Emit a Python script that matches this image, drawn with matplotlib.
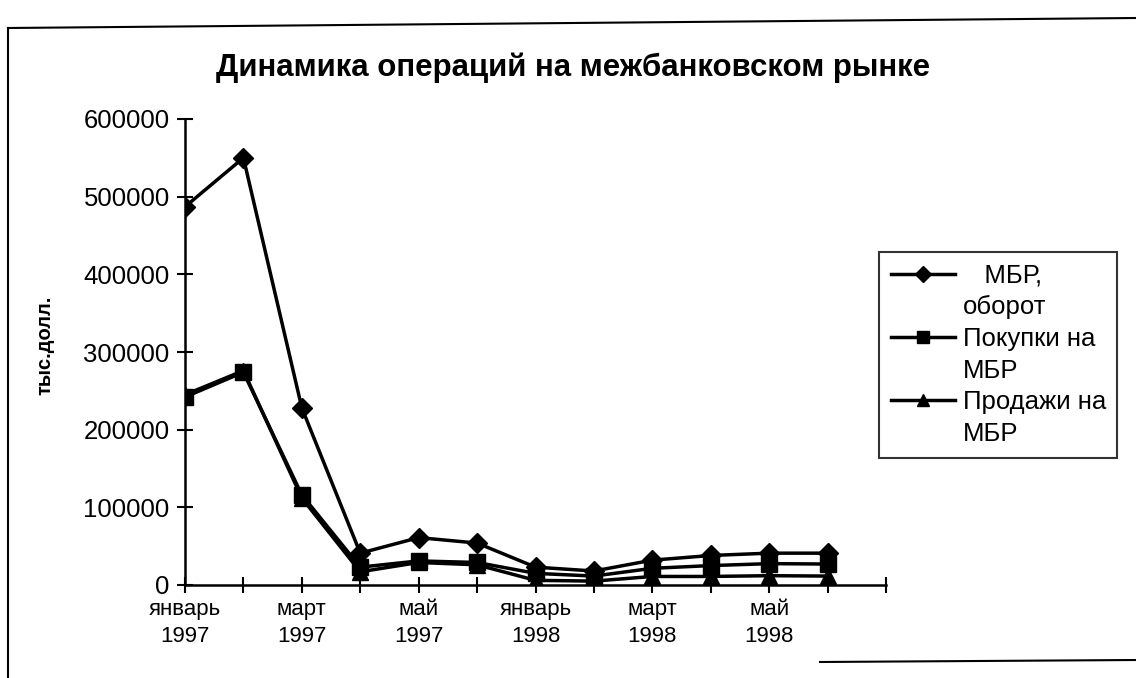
# Динамика операций на межбанковском рынке
import numpy as np
import matplotlib
matplotlib.use('Agg')
import matplotlib.pyplot as plt
from matplotlib.lines import Line2D

plt.rcParams['font.family'] = ['Liberation Sans', 'DejaVu Sans']

# data (тыс. долл.), Jan-Jun 1997 and Jan-Jun 1998
months = ['январь\n1997', '', 'март\n1997', '', 'май\n1997', '',
          'январь\n1998', '', 'март\n1998', '', 'май\n1998', '']
turnover = [487000, 550000, 228000, 41000, 61000, 54000, 23000, 18000, 32000, 38000, 41000, 41000]
purchases = [242000, 274000, 116000, 23000, 31000, 29000, 15000, 11500, 21500, 25000, 27500, 27000]
sales = [245000, 276000, 112000, 17000, 29000, 26000, 6000, 5000, 11000, 11000, 12000, 11500]

x = np.arange(len(months))

fig = plt.figure(figsize=(11.36, 6.78), dpi=100)
ax = fig.add_axes([185/1136, 1-585/678, (886-185)/1136, (585-119)/678])

l1, = ax.plot(x, turnover, color='black', lw=2.5, marker='D', ms=10)
l2, = ax.plot(x, purchases, color='black', lw=2.5, marker='s', ms=11)
l3, = ax.plot(x, sales, color='black', lw=2.5, marker='^', ms=11)

ax.set_xlim(0, 12)
ax.set_ylim(0, 600000)
ax.set_xticks(np.arange(13))
ax.set_xticklabels(months + [''], fontsize=16, linespacing=1.4)
ax.set_yticks(np.arange(0, 600001, 100000))
ax.set_yticklabels([str(v) for v in range(0, 600001, 100000)], fontsize=18.5)
ax.tick_params(axis='both', direction='inout', length=12, width=1.5, color='black')
ax.tick_params(axis='x', pad=4)
ax.tick_params(axis='y', pad=5)
for s in ['top', 'right']:
    ax.spines[s].set_visible(False)
for s in ['left', 'bottom']:
    ax.spines[s].set_linewidth(1.8)

ax.set_ylabel('тыс.долл.', fontsize=14.5, fontweight='bold')
ax.yaxis.set_label_coords(-0.187, 0.515)
fig.text(573/1136, 1-68/678, 'Динамика операций на межбанковском рынке',
         fontsize=22.5, fontweight='bold', ha='center', va='center')

# legend: second line of each label as its own row without a handle
blank = Line2D([], [], color='none')
handles = [l1, blank, l2, blank, l3, blank]
labels = ['   МБР,', 'оборот', 'Покупки на', 'МБР', 'Продажи на', 'МБР']
leg = ax.legend(handles, labels, loc='upper left', bbox_to_anchor=(879/1136, 1-252/678),
                bbox_transform=fig.transFigure, fontsize=18.5, frameon=True,
                fancybox=False, handlelength=2.5, borderpad=0.45, labelspacing=0.3,
                handletextpad=0.3, borderaxespad=0, markerscale=0.8)
leg.get_frame().set_edgecolor('black')
leg.get_frame().set_linewidth(1.5)

# chart area border (partly cut off in the scan)
fig.add_artist(Line2D([8/1136, 1], [1-28/678, 1-18/678], color='black', lw=1.5))
fig.add_artist(Line2D([8/1136, 8/1136], [1-28/678, 0], color='black', lw=1.5))
fig.add_artist(Line2D([820/1136, 1], [1-662/678, 1-660/678], color='black', lw=1.5))

fig.savefig('out.png', dpi=100)
